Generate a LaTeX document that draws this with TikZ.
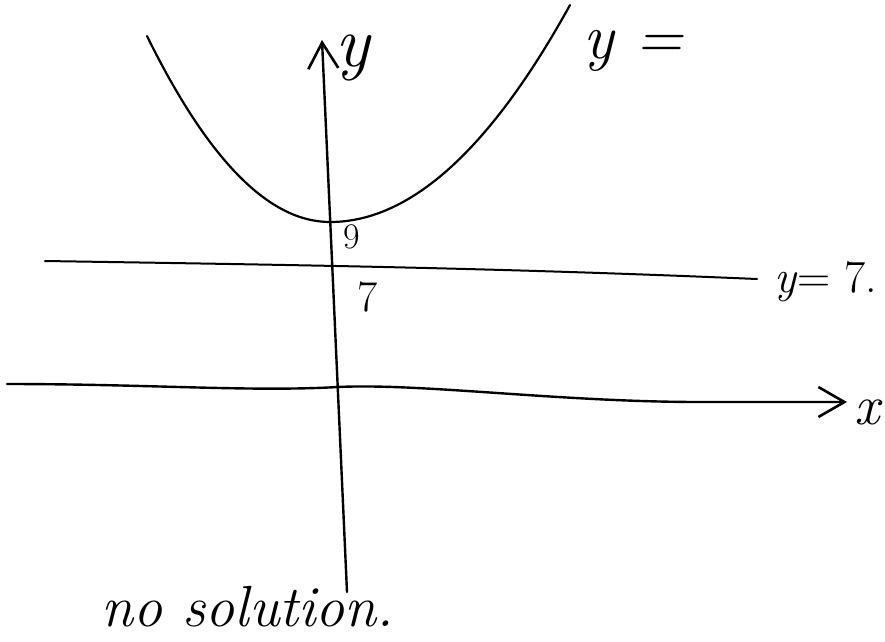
\documentclass[tikz,border=0pt]{standalone}
\usetikzlibrary{arrows.meta}
\begin{document}
\begin{tikzpicture}[x=1pt, y=-1pt, line width=2.4pt, line cap=round,
    axis/.style={-{Straight Barb[length=26pt, width=30pt, line width=2.6pt]}},
    hand/.style={inner sep=0pt, font=\itshape}]
    \useasboundingbox (0,0) rectangle (885,641);

    % axes
    \coordinate (ybot) at (347,592);
    \coordinate (ytop) at (322,40);
    \coordinate (xleft) at (7,384);
    \coordinate (xmid) at (338,387);
    \coordinate (xright) at (847,402);
    \draw[axis] (ybot) -- (ytop);
    \draw[axis] (xleft) .. controls (150,384) and (250,392) .. (xmid)
        .. controls (420,383) and (560,402) .. (700,402) -- (xright);
    \node[hand, anchor=base west, font=\fontsize{72}{80}\selectfont\itshape] (ylab) at (334,66) {y};
    \node[hand, anchor=base west, font=\fontsize{56}{64}\selectfont\itshape] (xlab) at (853,424) {x};

    % curve, vertex at 9
    \coordinate (pl) at (147,36);
    \coordinate (vtx) at (330,222);
    \coordinate (pr) at (570,5);
    \draw[line width=2.2pt] (pl) .. controls (208,160) and (269,222) .. (vtx)
        .. controls (410,222) and (490,150) .. (pr);
    \node[hand, anchor=base west, font=\fontsize{64}{72}\selectfont\itshape] (curvelab) at (582,58) {y =};
    \node[hand, font=\fontsize{36}{40}\selectfont] (nine) at (352,237) {9};

    % line y = 7
    \coordinate (hl) at (45,261);
    \coordinate (hr) at (757,279);
    \draw[line width=2pt] (hl) .. controls (300,265) and (500,268) .. (hr);
    \node[hand, anchor=base west, font=\fontsize{46}{50}\selectfont] (linelab) at (773,292) {\textit{y}= 7.};
    \node[hand, font=\fontsize{44}{50}\selectfont] (seven) at (368,297) {7};

    \node[hand, anchor=base west, font=\fontsize{58}{66}\selectfont\itshape] (note) at (100,626) {no solution.};
\end{tikzpicture}
\end{document}
